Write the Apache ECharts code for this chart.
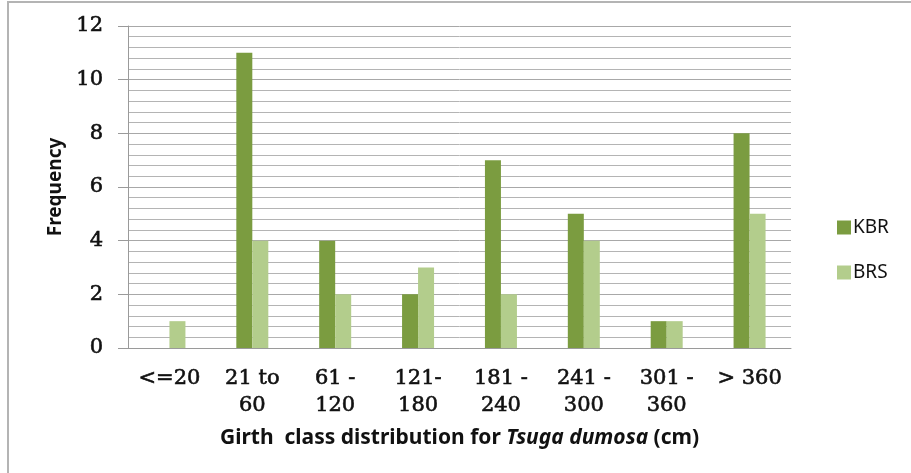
<!DOCTYPE html>
<html>
<head>
<meta charset="utf-8">
<script src="https://cdn.jsdelivr.net/npm/echarts@6/dist/echarts.min.js"></script>
<style>
  html, body { margin: 0; padding: 0; background: #fff; }
  #chart { width: 911px; height: 473px; }
</style>
</head>
<body>
<div id="chart"></div>
<script>
var categories = ['<=20', '21 to\n60', '61 -\n120', '121-\n180', '181 -\n240', '241 -\n300', '301 -\n360', '> 360'];
var kbr = [0, 11, 4, 2, 7, 5, 1, 8];
var brs = [1, 4, 2, 3, 2, 4, 1, 5];
var yTicks = [0, 2, 4, 6, 8, 10, 12];

var chart = echarts.init(document.getElementById('chart'));

chart.setOption({
    animation: false,
    backgroundColor: '#fff',
    graphic: [{
        type: 'rect',
        shape: { x: 8, y: 2, width: 1000, height: 1000 },
        style: { fill: 'none', stroke: '#b4b4b4', lineWidth: 2 },
        silent: true
    }],
    grid: {
        left: 128,
        right: 120,
        top: 26,
        bottom: 125
    },
    legend: {
        orient: 'vertical',
        left: 832,
        top: 213,
        itemWidth: 14,
        itemHeight: 14,
        itemGap: 26,
        icon: 'rect',
        textStyle: { fontFamily: 'Noto Sans', fontSize: 19, color: '#111', padding: [0, 0, 0, -3] },
        data: ['KBR', 'BRS']
    },
    xAxis: {
        type: 'category',
        data: categories,
        axisTick: { show: false },
        axisLine: { lineStyle: { color: '#9a9a9a', width: 1 } },
        axisLabel: {
            interval: 0,
            margin: 17,
            lineHeight: 27,
            fontFamily: 'DejaVu Serif',
            fontSize: 21,
            color: '#111',
            textBorderColor: '#111',
            textBorderWidth: 0.6
        },
        name: '{b|Girth  class distribution for }{i|Tsuga dumosa}{b| (cm)}',
        nameLocation: 'middle',
        nameGap: 80,
        nameTextStyle: {
            rich: {
                b: { fontFamily: 'Noto Sans', fontWeight: 'bold', fontSize: 21, color: '#111' },
                i: { fontFamily: 'Noto Sans', fontWeight: 'bold', fontStyle: 'italic', fontSize: 21, color: '#111' }
            }
        }
    },
    yAxis: {
        type: 'value',
        min: yTicks[0],
        max: yTicks[yTicks.length - 1],
        interval: 2,
        name: 'Frequency',
        nameLocation: 'middle',
        nameRotate: 90,
        nameGap: 56,
        nameTextStyle: { fontFamily: 'Noto Sans', fontWeight: 'bold', fontSize: 19, color: '#111' },
        axisLine: { show: true, lineStyle: { color: '#9a9a9a', width: 1 } },
        axisTick: { show: true, length: 10, lineStyle: { color: '#9a9a9a' } },
        axisLabel: {
            margin: 25,
            fontFamily: 'DejaVu Serif',
            fontSize: 21,
            color: '#111',
            textBorderColor: '#111',
            textBorderWidth: 0.6
        },
        splitLine: { lineStyle: { color: '#a8a8a8', width: 1 } },
        minorTick: { show: false, splitNumber: 5 },
        minorSplitLine: { show: true, lineStyle: { color: '#b4b4b4', width: 1 } }
    },
    series: [
        {
            name: 'KBR',
            type: 'bar',
            data: kbr,
            barWidth: 16,
            barGap: '0%',
            itemStyle: { color: '#7b9c40' }
        },
        {
            name: 'BRS',
            type: 'bar',
            data: brs,
            barWidth: 16,
            itemStyle: { color: '#b3cd8c' }
        }
    ]
});
</script>
</body>
</html>
